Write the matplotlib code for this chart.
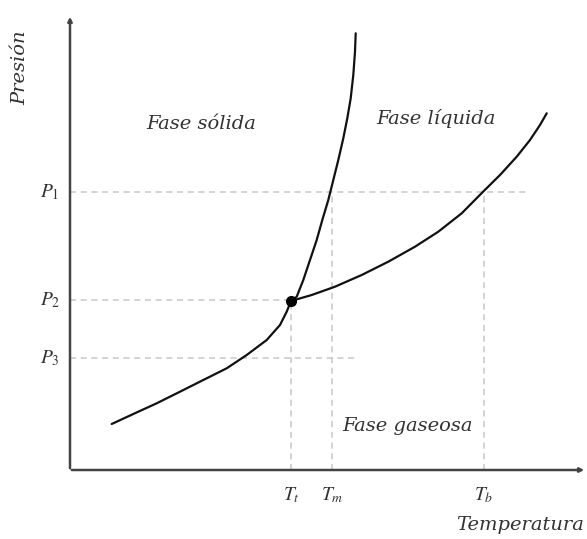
import numpy as np
import matplotlib.pyplot as plt

plt.rcParams['mathtext.fontset'] = 'stix'

fusion_T = [221, 226.7, 233.3, 240, 246.7, 252.3, 258.3, 263.3, 268.3, 273.3, 277.3, 280.7, 283.3, 285, 285.7]
fusion_P = [169, 173.3, 190, 210, 230, 250, 270, 290, 310, 331.7, 351.7, 371.7, 395, 418.3, 436.7]

sublim_T = [41.7, 63.3, 86.7, 110, 133.3, 156.7, 176.7, 196.7, 210, 216.7, 221]
sublim_P = [46, 56, 66.7, 78.3, 90, 101.7, 115, 130, 145, 158.3, 169]

vapor_T = [221, 241.7, 265, 291.7, 318.3, 345, 368.3, 391.7, 413.3, 430, 446.7, 460, 470, 476.7]
vapor_P = [169, 175, 183.3, 195, 208.3, 223.3, 238.3, 256.7, 278.5, 295, 313.3, 330, 345, 356.7]

triple_T, triple_P = 221, 169

P_vals = [278, 170, 112]
P_labels = ['$P_1$', '$P_2$', '$P_3$']
T_vals = [221, 262, 414]
T_labels = ['$T_t$', '$T_m$', '$T_b$']

fig = plt.figure(figsize=(5.87, 5.39), dpi=100)
ax = fig.add_axes([0, 0, 1, 1])
ax.set_xlim(-70, 517)
ax.set_ylim(-69, 470)
ax.axis('off')

gris = '#c8c8c8'
estilo = dict(ls='--', color=gris, lw=1.1, dashes=(4, 3))
# lineas discontinuas horizontales
ax.plot([0, 457], [P_vals[0]] * 2, **estilo)
ax.plot([0, triple_T], [P_vals[1]] * 2, **estilo)
ax.plot([0, 287], [P_vals[2]] * 2, **estilo)
# verticales
ax.plot([T_vals[0]] * 2, [0, triple_P], **estilo)
ax.plot([T_vals[1]] * 2, [0, P_vals[0]], **estilo)
ax.plot([T_vals[2]] * 2, [0, P_vals[0]], **estilo)

# ejes con flecha
ax.annotate('', xy=(0, 456), xytext=(0, -1),
            arrowprops=dict(arrowstyle='-|>', color='#444444', lw=1.8, mutation_scale=6))
ax.annotate('', xy=(517, 0), xytext=(-1, 0),
            arrowprops=dict(arrowstyle='-|>', color='#444444', lw=1.8, mutation_scale=6))

# curvas
for T, P in [(fusion_T, fusion_P), (sublim_T, sublim_P), (vapor_T, vapor_P)]:
    ax.plot(T, P, color='#111111', lw=1.6, solid_joinstyle='round', solid_capstyle='round')
ax.plot(triple_T, triple_P, 'o', color='black', ms=7)

# etiquetas
for p, lab in zip(P_vals, P_labels):
    ax.text(-20, p, lab, ha='center', va='center', fontsize=14, color='#333333')
for t, lab in zip(T_vals, T_labels):
    ax.text(t, -25, lab, ha='center', va='center', fontsize=14, color='#333333')

fuente = dict(family='DejaVu Serif', style='italic', color='#333333', fontsize=14)
ax.text(131, 346, 'Fase sólida', ha='center', va='center', **fuente)
ax.text(366, 352, 'Fase líquida', ha='center', va='center', **fuente)
ax.text(338, 44, 'Fase gaseosa', ha='center', va='center', **fuente)
ax.text(514, -55, 'Temperatura', ha='right', va='center', **fuente)
ax.text(-50, 402, 'Presión', ha='center', va='center', rotation=90, **fuente)

fig.savefig('out.png', dpi=100)
